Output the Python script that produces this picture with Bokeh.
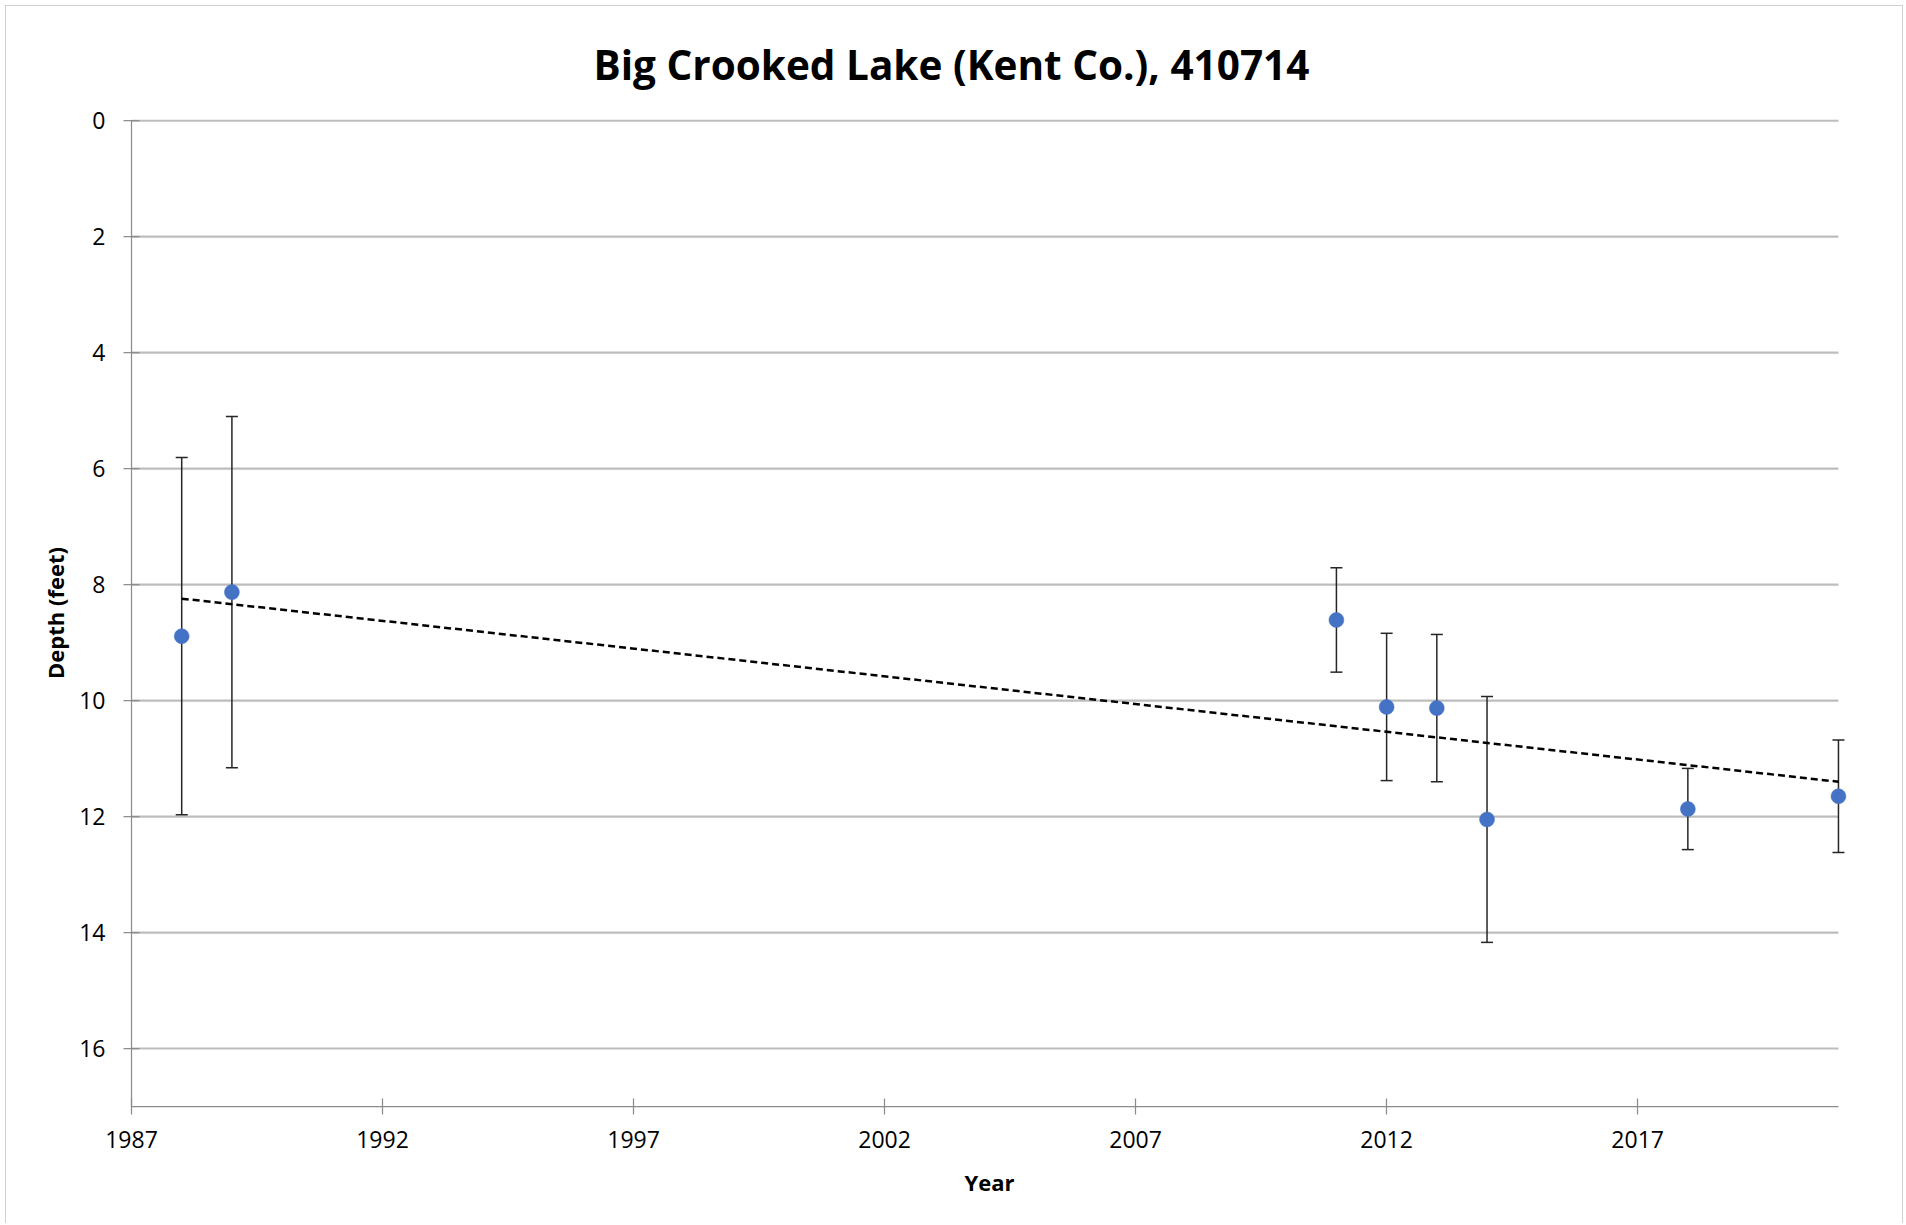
import numpy as np
from bokeh.plotting import figure
from bokeh.models import (ColumnDataSource, Whisker, TeeHead, FixedTicker,
                          Range1d, Title)
from bokeh.embed import file_html
from bokeh.resources import INLINE

# ---- data ----
years = [1988, 1989, 2011, 2012, 2013, 2014, 2018, 2021]
depths = [8.89, 8.13, 8.61, 10.11, 10.13, 12.05, 11.87, 11.65]
errors = [3.08, 3.03, 0.90, 1.27, 1.27, 2.12, 0.70, 0.97]
x_ticks = [1987, 1992, 1997, 2002, 2007, 2012, 2017]
y_ticks = [0, 2, 4, 6, 8, 10, 12, 14, 16]
x_min, x_max = 1987, 2021
y_min, y_max = 0, 17
title_text = "Big Crooked Lake (Kent Co.), 410714"
x_label = "Year"
y_label = "Depth (feet)"

FONT = "Open Sans"
BLUE = "#4472C4"
GRID = "#bdbdbd"
AXIS = "#8c8c8c"

p = figure(
    width=1898, height=1218,
    output_backend="svg", toolbar_location=None,
    x_range=Range1d(x_min, x_max + 0.18), y_range=Range1d(y_max, y_min - 0.02),
    min_border_left=125, min_border_right=57,
    min_border_top=112, min_border_bottom=118,
    background_fill_color="white", border_fill_color="white",
)
p.outline_line_color = None
p.styles = {"margin-left": "5px", "margin-top": "5px",
            "border-left": "1px solid #d0d0d0",
            "border-top": "1px solid #d0d0d0",
            "border-right": "1px solid #d0d0d0"}

p.title = Title(text=title_text, align="left", offset=462,
                text_font=FONT, text_font_size="40.5px",
                text_font_style="bold", text_color="black", standoff=56)

# axes
for ax in (p.xaxis[0], p.yaxis[0]):
    ax.axis_line_color = AXIS
    ax.axis_line_width = 1.25
    ax.major_tick_line_color = AXIS
    ax.major_tick_line_width = 1.25
    ax.major_tick_in = 8
    ax.major_tick_out = 8
    ax.minor_tick_line_color = None
    ax.major_label_text_font = FONT
    ax.major_label_text_font_size = "23px"
    ax.major_label_text_color = "black"
    ax.axis_label_text_font = FONT
    ax.axis_label_text_font_size = "22px"
    ax.axis_label_text_font_style = "bold"
    ax.axis_label_text_color = "black"

p.xaxis.ticker = FixedTicker(ticks=x_ticks)
p.yaxis.ticker = FixedTicker(ticks=y_ticks)
p.xaxis.bounds = (x_min, x_max)
p.yaxis.bounds = (y_min, y_max)
p.xaxis.axis_label = x_label
p.yaxis.axis_label = y_label
p.xaxis.major_label_standoff = 16
p.yaxis.major_label_standoff = 18
p.xaxis.axis_label_standoff = 16
p.yaxis.axis_label_standoff = 6

p.xgrid.visible = False
p.ygrid.visible = False

# horizontal gridlines spanning exactly the x axis extent
n = len(y_ticks)
p.segment(x0=[x_min] * n, y0=y_ticks, x1=[x_max] * n, y1=y_ticks,
          line_color=GRID, line_width=2.2, level="underlay")

# error bars
src = ColumnDataSource(dict(
    x=years, y=depths,
    upper=[d - e for d, e in zip(depths, errors)],
    lower=[d + e for d, e in zip(depths, errors)],
))
wh = Whisker(source=src, base="x", upper="upper", lower="lower",
             line_color="#262626", line_width=1.5,
             upper_head=TeeHead(size=12, line_color="#262626", line_width=1.5),
             lower_head=TeeHead(size=12, line_color="#262626", line_width=1.5))
p.add_layout(wh)

# points
p.scatter("x", "y", source=src, size=15, fill_color=BLUE, line_color=BLUE,
          line_width=0.5)

# linear trend line (least squares over the data)
slope, intercept = np.polyfit(years, depths, 1)
tx = [years[0], years[-1]]
ty = [slope * v + intercept for v in tx]
p.line(tx, ty, line_color="black", line_width=2.5, line_dash="7 4")

open("out.html", "w").write(file_html(p, INLINE))
